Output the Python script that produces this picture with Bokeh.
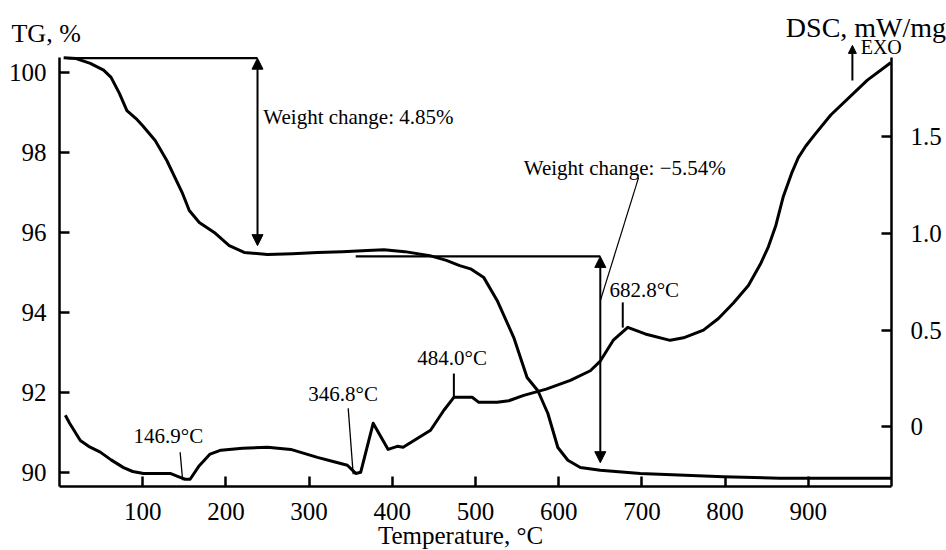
from bokeh.plotting import figure
from bokeh.models import (Range1d, LinearAxis, FixedTicker, Label, Arrow,
                          NormalHead)
from bokeh.embed import file_html
from bokeh.resources import INLINE

# ---------------- data ----------------
temp_tg = [5, 20, 37, 53, 62, 72, 81, 92, 100, 115, 129, 148, 156, 168, 186,
           204, 222, 250, 280, 310, 340, 370, 390, 415, 445, 465, 481, 494,
           510, 526, 546, 562, 575, 587, 599, 611, 626, 650, 698, 798, 866,
           1000]
tg = [100.38, 100.36, 100.24, 100.07, 99.89, 99.49, 99.06, 98.86, 98.68,
      98.31, 97.81, 96.98, 96.56, 96.26, 96.01, 95.68, 95.51, 95.46, 95.48,
      95.51, 95.53, 95.56, 95.58, 95.53, 95.43, 95.31, 95.18, 95.1, 94.88,
      94.31, 93.38, 92.38, 92.05, 91.48, 90.63, 90.31, 90.13, 90.06, 89.98,
      89.9, 89.86, 89.86]

temp_dsc = [7, 12, 25, 35, 49, 62, 77, 88, 101, 133, 145, 151, 157, 168, 181,
            194, 220, 250, 278, 310, 330, 346, 356, 362, 377, 395, 406, 413,
            446, 462, 474, 496, 504, 526, 540, 558, 585, 614, 638, 650, 666,
            683, 704, 734, 750, 774, 792, 810, 828, 843, 852, 861, 870, 880,
            888, 897, 908, 927, 971, 999]
dsc = [0.06, 0.02, -0.07, -0.10, -0.13, -0.17, -0.21, -0.23, -0.24, -0.24,
       -0.26, -0.27, -0.27, -0.20, -0.14, -0.12, -0.11, -0.105, -0.116,
       -0.157, -0.18, -0.198, -0.24, -0.234, 0.019, -0.116, -0.10, -0.105,
       -0.017, 0.086, 0.153, 0.153, 0.127, 0.127, 0.135, 0.163, 0.195, 0.24,
       0.29, 0.34, 0.45, 0.514, 0.48, 0.447, 0.46, 0.50, 0.56, 0.64, 0.73,
       0.845, 0.93, 1.04, 1.19, 1.31, 1.39, 1.45, 1.51, 1.61, 1.79, 1.88]

x_ticks = [100, 200, 300, 400, 500, 600, 700, 800, 900]
tg_ticks = [90, 92, 94, 96, 98, 100]
dsc_ticks = [0, 0.5, 1.0, 1.5]
dsc_tick_labels = ["0", "0.5", "1.0", "1.5"]

# axis extents (data units)
T_MIN, T_MAX = 0, 1000
TG_MIN, TG_MAX = 89.654, 100.387
DSC_MIN, DSC_MAX = -0.3065, 1.907

# step annotations (temperature, TG level)
step1_line_x = [9.6, 238]
step1_line_y = 100.37
step1_arrow = (238, 100.37, 95.68)
step2_line_x = [356, 650]
step2_line_y = 95.41
step2_arrow = (650, 95.41, 90.25)

# peak labels: text, x (left), y (middle), leader x0,y0,x1,y1
peaks = [
    ("146.9°C", 89, 90.93, 145, 90.51, 148, 89.81),
    ("346.8°C", 299, 91.98, 347, 91.61, 353, 89.96),
    ("484.0°C", 430, 92.86, 474, 92.48, 474, 91.88),
    ("682.8°C", 661, 94.56, 677, 94.26, 677, 93.63),
]

FONT = "Liberation Serif"

# the frame covers the whole canvas; axes are drawn at fixed data locations
p = figure(width=946, height=550, output_backend="svg", toolbar_location=None,
           x_range=Range1d(-70.91, 1066.11), y_range=Range1d(88.053, 101.813),
           x_axis_location=None, y_axis_location=None,
           min_border=0)
p.extra_y_ranges = {"dsc": Range1d(-0.6378, 2.2012)}
p.outline_line_color = None
p.background_fill_color = "white"
p.border_fill_color = "white"
p.grid.visible = False

xax = LinearAxis(fixed_location=TG_MIN, bounds=(T_MIN, T_MAX))
lax = LinearAxis(fixed_location=T_MIN, bounds=(TG_MIN, TG_MAX))
rax = LinearAxis(fixed_location=T_MAX, bounds=(DSC_MIN, DSC_MAX),
                 y_range_name="dsc")
p.add_layout(xax, "below")
p.add_layout(lax, "left")
p.add_layout(rax, "right")

def style_axis(ax, standoff):
    ax.axis_line_width = 2.5
    ax.axis_line_color = "black"
    ax.major_tick_in = 10
    ax.major_tick_out = 0
    ax.major_tick_line_width = 2.5
    ax.major_tick_line_color = "black"
    ax.minor_tick_line_color = None
    ax.major_label_text_font = FONT
    ax.major_label_text_font_size = "25px"
    ax.major_label_text_color = "black"
    ax.major_label_standoff = standoff

style_axis(xax, 16)
style_axis(lax, 13)
style_axis(rax, 19)
xax.ticker = FixedTicker(ticks=x_ticks)
lax.ticker = FixedTicker(ticks=tg_ticks)
rax.ticker = FixedTicker(ticks=dsc_ticks)
rax.major_label_overrides = {t: l for t, l in zip(dsc_ticks, dsc_tick_labels)}

# curves
p.line(temp_tg, tg, line_width=3, line_color="black", line_join="round")
p.line(temp_dsc, dsc, line_width=3, line_color="black", line_join="round",
       y_range_name="dsc")

# step annotations
p.line(step1_line_x, [step1_line_y] * 2, line_width=2.2, line_color="black")
p.line(step2_line_x, [step2_line_y] * 2, line_width=2.2, line_color="black")
for (ax_x, y0, y1) in (step1_arrow, step2_arrow):
    for yy in (y0, y1):
        p.add_layout(Arrow(x_start=ax_x, y_start=(y0 + y1) / 2, x_end=ax_x,
                           y_end=yy, line_width=2, line_color="black",
                           end=NormalHead(size=11, fill_color="black",
                                          line_color="black")))

def label(text, x, y, size, align="left", baseline="middle"):
    p.add_layout(Label(x=x, y=y, text=text, text_font=FONT,
                       text_font_size=size, text_baseline=baseline,
                       text_align=align, text_color="black"))

label("Weight change: 4.85%", 245, 98.89, "21px")
label("Weight change: \u22125.54%", 558, 97.61, "21px")
p.segment(x0=[696], y0=[97.38], x1=[650], y1=[94.30], line_width=1.2,
          line_color="black")

for (txt, tx, ty, lx0, ly0, lx1, ly1) in peaks:
    label(txt, tx, ty, "21px")
    p.segment(x0=[lx0], y0=[ly0], x1=[lx1], y1=[ly1],
              line_width=1.3 if lx0 != lx1 else 2, line_color="black")

# axis titles
label("TG, %", -57.7, 100.99, "26px")
label("DSC, mW/mg", 873, 101.14, "28px")
label("EXO", 963, 100.64, "20px")
label("Temperature, \u00b0C", 482, 88.44, "25px", align="center")
p.add_layout(Arrow(x_start=953, y_start=99.81, x_end=953, y_end=100.69,
                   line_width=2, line_color="black",
                   end=NormalHead(size=8, fill_color="black",
                                  line_color="black")))

open("out.html", "w").write(file_html(p, INLINE))
